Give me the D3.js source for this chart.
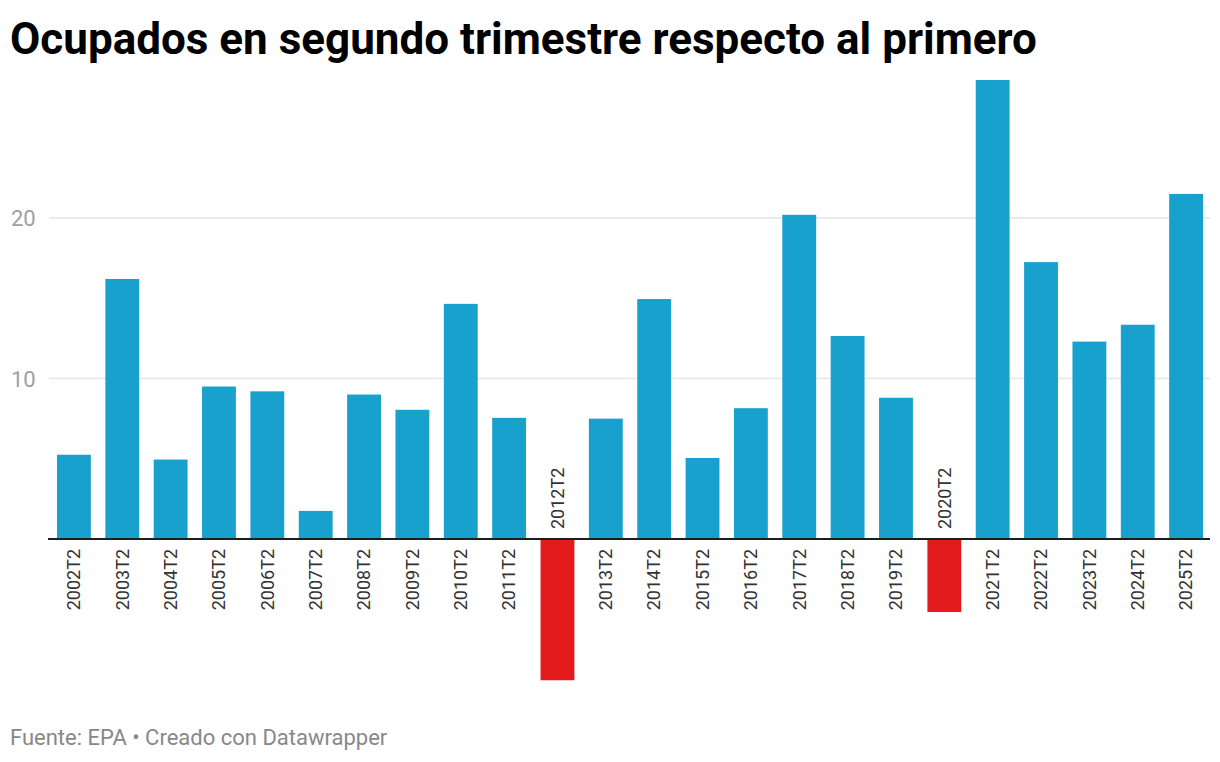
<!DOCTYPE html>
<html>
<head>
<meta charset="utf-8">
<script src="https://cdn.jsdelivr.net/npm/d3@7"></script>
<style>
  body { margin: 0; background: #fff; font-family: Roboto, sans-serif; }
</style>
</head>
<body>
<script>
const periods = ['2002T2', '2003T2', '2004T2', '2005T2', '2006T2', '2007T2', '2008T2', '2009T2',
  '2010T2', '2011T2', '2012T2', '2013T2', '2014T2', '2015T2', '2016T2', '2017T2', '2018T2',
  '2019T2', '2020T2', '2021T2', '2022T2', '2023T2', '2024T2', '2025T2']
const values = [5.25, 16.2, 4.95, 9.5, 9.2, 1.75, 9.0, 8.05, 14.65, 7.55, -8.8, 7.5, 14.95,
  5.05, 8.15, 20.2, 12.65, 8.8, -4.55, 28.6, 17.25, 12.3, 13.35, 21.5]
const yTicks = [10, 20]

const W = 1220
const H = 762
const svg = d3.select('body').append('svg').attr('width', W).attr('height', H)

const x = d3.scaleBand().domain(periods).range([49, 1211]).paddingInner(0.3).paddingOuter(0.165)
const y = d3.scaleLinear().domain([0, 20]).range([539, 218])

svg.append('text').attr('x', 10).attr('y', 54).text('Ocupados en segundo trimestre respecto al primero')
  .style('font-size', '44px').style('font-weight', 700).attr('fill', '#000')

const grid = svg.append('g')
yTicks.forEach((t) => {
  grid.append('line').attr('x1', 49).attr('x2', 1210).attr('y1', y(t)).attr('y2', y(t))
    .attr('stroke', '#e5e5e5').attr('stroke-width', 1.5)
  grid.append('text').attr('x', 11).attr('y', y(t) + 8).text(t)
    .style('font-size', '22px').attr('fill', '#a0a0a0')
})

svg.append('g').selectAll('rect').data(values).join('rect')
  .attr('x', (v, i) => x(periods[i]))
  .attr('width', x.bandwidth())
  .attr('y', (v) => Math.min(y(v), y(0)))
  .attr('height', (v) => Math.abs(y(v) - y(0)))
  .attr('fill', (v) => (v < 0 ? '#e31b1d' : '#18a1cd'))

svg.append('line').attr('x1', 48).attr('x2', 1210).attr('y1', y(0)).attr('y2', y(0))
  .attr('stroke', '#1d1d1d').attr('stroke-width', 2)

svg.append('g').selectAll('text').data(values).join('text')
  .attr('transform', (v, i) => {
    const cx = x(periods[i]) + x.bandwidth() / 2
    const ly = v < 0 ? y(0) - 10 : y(0) + 10
    return `translate(${cx},${ly}) rotate(-90)`
  })
  .attr('dy', '0.35em')
  .attr('text-anchor', (v) => (v < 0 ? 'start' : 'end'))
  .text((v, i) => periods[i])
  .style('font-size', '18px').attr('fill', '#333')

svg.append('text').attr('x', 10).attr('y', 745).text('Fuente: EPA • Creado con Datawrapper')
  .style('font-size', '22px').attr('fill', '#888')
</script>
</body>
</html>
